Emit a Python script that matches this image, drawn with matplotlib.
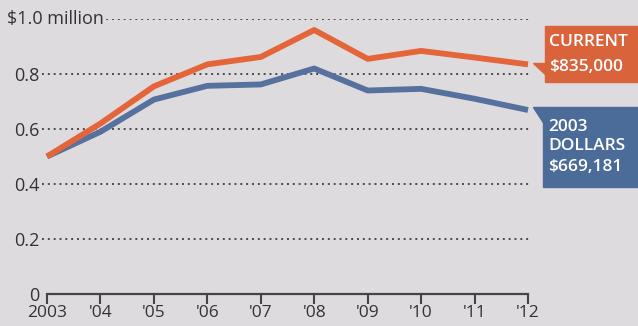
import matplotlib
matplotlib.use('Agg')
import matplotlib.pyplot as plt
from matplotlib.patches import Rectangle, Polygon

# data (millions of dollars)
years = [2003, 2004, 2005, 2006, 2007, 2008, 2009, 2010, 2011, 2012]
year_labels = ['2003', "'04", "'05", "'06", "'07", "'08", "'09", "'10", "'11", "'12"]
current = [0.50, 0.62, 0.755, 0.835, 0.862, 0.96, 0.855, 0.884, 0.86, 0.835]
dollars_2003 = [0.50, 0.59, 0.707, 0.757, 0.762, 0.82, 0.74, 0.746, 0.71, 0.669]
y_ticks = [0, 0.2, 0.4, 0.6, 0.8, 1.0]
y_labels = ['0', '0.2', '0.4', '0.6', '0.8', '']

bg = '#dedbde'
orange = '#e4653a'
blue = '#56719e'
txt = '#333333'

W, H = 638, 326
plt.rcParams['font.family'] = ['Open Sans', 'DejaVu Sans']

fig = plt.figure(figsize=(W / 100, H / 100), dpi=100, facecolor=bg)


def fx(px):
    return px / W


def fy(py):
    return 1 - py / H


ax = fig.add_axes([fx(42), fy(294), (530 - 42) / W, 275 / H])
ax.set_facecolor(bg)
ax.set_xlim(2003 - 5 / 53.44, 2012 + 2 / 53.44)
ax.set_ylim(0, 1)

# dotted gridlines
for v in y_ticks[1:]:
    ax.axhline(v, color='#4a4a4a', lw=1.4, ls=(0, (1, 2.0)), zorder=1)

ax.plot(years, dollars_2003, color=blue, lw=4.2, solid_capstyle='butt', zorder=3)
ax.plot(years, current, color=orange, lw=4.2, solid_capstyle='butt', zorder=4)

for s in ['top', 'right', 'left']:
    ax.spines[s].set_visible(False)
ax.spines['bottom'].set_bounds(years[0], years[-1])
ax.spines['bottom'].set_color('#444444')
ax.spines['bottom'].set_linewidth(1.6)

ax.set_xticks(years)
ax.set_xticklabels(year_labels)
ax.set_yticks(y_ticks)
ax.set_yticklabels(y_labels)
ax.tick_params(axis='x', length=7.5, width=1.5, color='#444444', pad=0.5,
               labelsize=12.5, labelcolor=txt)
ax.tick_params(axis='y', length=0, pad=2, labelsize=13, labelcolor=txt)

# top label sits over the gridline
fig.text(fx(7), fy(19), '$1.0 million', fontsize=13, color=txt,
         ha='left', va='center', zorder=5,
         bbox=dict(facecolor=bg, edgecolor='none', pad=1.5))

# end labels with pointer tabs
fig.patches.append(Rectangle((fx(545), fy(82)), fx(100), 56 / H,
                             transform=fig.transFigure, color='#d9633b', zorder=2))
fig.patches.append(Polygon([(fx(533), fy(63)), (fx(546), fy(63)), (fx(546), fy(75))],
                           transform=fig.transFigure, color='#d9633b', zorder=2))
fig.text(fx(549), fy(42), 'CURRENT', fontsize=12.5, fontweight='semibold',
         color='white', ha='left', va='center')
fig.text(fx(549), fy(67), '$835,000', fontsize=12.5, fontweight='semibold',
         color='white', ha='left', va='center')

fig.patches.append(Rectangle((fx(543), fy(187)), fx(100), 80 / H,
                             transform=fig.transFigure, color='#4b6b98', zorder=2))
fig.patches.append(Polygon([(fx(533), fy(107)), (fx(544), fy(107)), (fx(544), fy(124))],
                           transform=fig.transFigure, color='#4b6b98', zorder=2))
fig.text(fx(548), fy(127), '2003', fontsize=12.5, fontweight='semibold',
         color='white', ha='left', va='center')
fig.text(fx(548), fy(146), 'DOLLARS', fontsize=12.5, fontweight='semibold',
         color='white', ha='left', va='center')
fig.text(fx(548), fy(167), '$669,181', fontsize=12.5, fontweight='semibold',
         color='white', ha='left', va='center')

fig.savefig('out.png', dpi=100, facecolor=bg)
